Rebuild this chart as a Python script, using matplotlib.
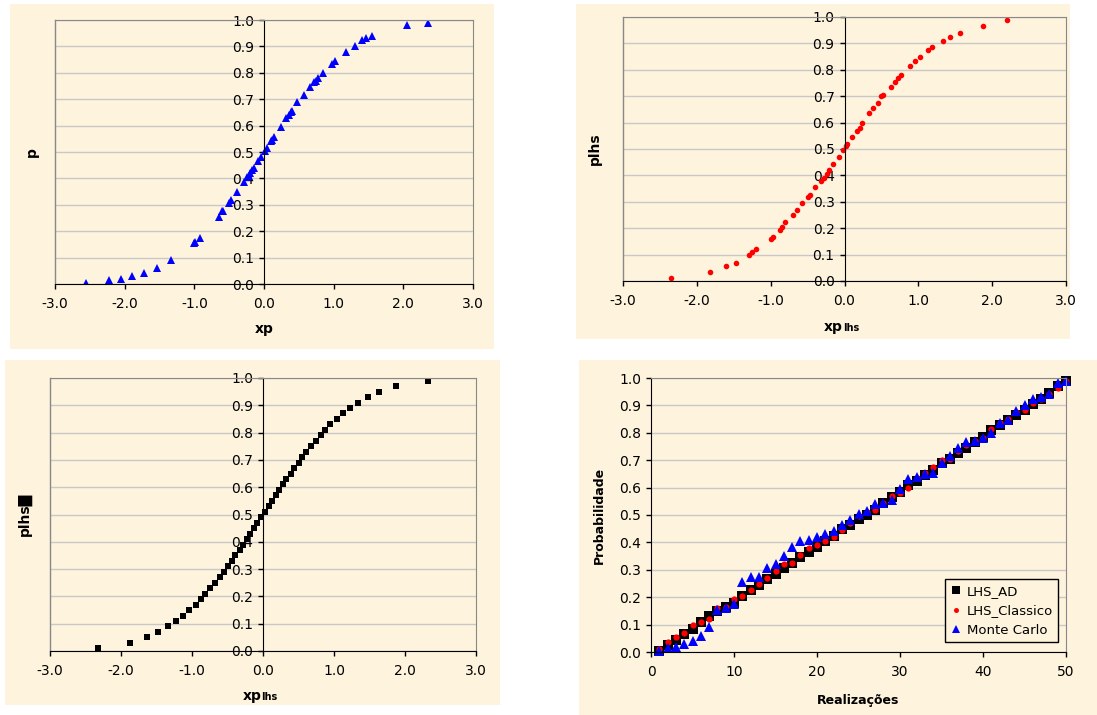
import matplotlib
matplotlib.use("Agg")
import matplotlib.pyplot as plt
from matplotlib.patches import Rectangle
from matplotlib.ticker import FormatStrFormatter, MultipleLocator

plt.rcParams['font.family'] = ['DejaVu Sans']

# Monte Carlo sample: probability and standard normal value
p_mc = [0.005, 0.015, 0.02, 0.03, 0.04, 0.06, 0.09, 0.155, 0.16, 0.175,
        0.255, 0.275, 0.275, 0.305, 0.32, 0.35, 0.385, 0.405, 0.41, 0.42,
        0.43, 0.44, 0.465, 0.48, 0.505, 0.515, 0.54, 0.545, 0.555, 0.595,
        0.63, 0.64, 0.65, 0.655, 0.69, 0.715, 0.745, 0.765, 0.77, 0.78,
        0.80, 0.835, 0.845, 0.88, 0.90, 0.925, 0.93, 0.94, 0.98, 0.99]
xp_mc = [-2.55, -2.22, -2.05, -1.90, -1.72, -1.53, -1.33, -1.00, -0.99, -0.92,
         -0.65, -0.60, -0.59, -0.50, -0.47, -0.39, -0.29, -0.25, -0.22, -0.20,
         -0.17, -0.15, -0.09, -0.05, 0.01, 0.04, 0.10, 0.12, 0.14, 0.24,
         0.32, 0.36, 0.39, 0.40, 0.48, 0.57, 0.66, 0.72, 0.74, 0.78,
         0.85, 0.98, 1.02, 1.18, 1.30, 1.40, 1.47, 1.55, 2.05, 2.35]

# LHS classico
p_lhs = [0.01, 0.035, 0.055, 0.07, 0.10, 0.11, 0.12, 0.16, 0.165, 0.195,
         0.205, 0.225, 0.25, 0.27, 0.295, 0.32, 0.325, 0.355, 0.38, 0.39,
         0.405, 0.42, 0.445, 0.47, 0.495, 0.51, 0.52, 0.545, 0.57, 0.58,
         0.60, 0.635, 0.655, 0.675, 0.70, 0.705, 0.735, 0.755, 0.77, 0.78,
         0.815, 0.835, 0.85, 0.875, 0.885, 0.91, 0.925, 0.94, 0.965, 0.99]
xp_lhs = [-2.35, -1.82, -1.60, -1.47, -1.30, -1.25, -1.20, -1.00, -0.97, -0.87,
          -0.84, -0.80, -0.70, -0.64, -0.57, -0.49, -0.47, -0.40, -0.32, -0.28,
          -0.24, -0.21, -0.16, -0.08, -0.02, 0.02, 0.04, 0.10, 0.17, 0.21,
          0.24, 0.33, 0.38, 0.45, 0.50, 0.52, 0.63, 0.69, 0.73, 0.76,
          0.89, 0.95, 1.02, 1.13, 1.19, 1.34, 1.43, 1.56, 1.87, 2.20]

# LHS_AD
p_ad = [0.01, 0.03, 0.05, 0.07, 0.09, 0.11, 0.13, 0.15, 0.17, 0.19,
        0.21, 0.23, 0.25, 0.27, 0.29, 0.31, 0.33, 0.35, 0.37, 0.39,
        0.41, 0.43, 0.45, 0.47, 0.49, 0.51, 0.53, 0.55, 0.57, 0.59,
        0.61, 0.63, 0.65, 0.67, 0.69, 0.71, 0.73, 0.75, 0.77, 0.79,
        0.81, 0.83, 0.85, 0.87, 0.89, 0.91, 0.93, 0.95, 0.97, 0.99]
xp_ad = [-2.33, -1.88, -1.64, -1.48, -1.34, -1.23, -1.13, -1.04, -0.95, -0.88,
         -0.81, -0.74, -0.67, -0.61, -0.55, -0.50, -0.44, -0.39, -0.33, -0.28,
         -0.23, -0.18, -0.13, -0.08, -0.03, 0.03, 0.08, 0.13, 0.18, 0.23,
         0.28, 0.33, 0.39, 0.44, 0.50, 0.55, 0.61, 0.67, 0.74, 0.81,
         0.88, 0.95, 1.04, 1.13, 1.23, 1.34, 1.48, 1.64, 1.88, 2.33]

# probabilities by realization (panel 4)
realiz = list(range(1, 51))
prob_ad = [0.005, 0.025, 0.045, 0.065, 0.085, 0.11, 0.13, 0.15, 0.165, 0.18,
           0.205, 0.225, 0.245, 0.265, 0.285, 0.305, 0.325, 0.345, 0.365, 0.385,
           0.405, 0.425, 0.45, 0.465, 0.485, 0.50, 0.52, 0.545, 0.565, 0.585,
           0.61, 0.625, 0.645, 0.665, 0.69, 0.705, 0.725, 0.745, 0.765, 0.785,
           0.81, 0.83, 0.845, 0.865, 0.885, 0.905, 0.925, 0.945, 0.97, 0.99]

W, H = 1097, 715
BG = '#FEF3DC'
GRID = '#C8C8C8'
EDGE = '#888888'

fig = plt.figure(figsize=(W / 100, H / 100), dpi=100)


def px_rect(x0, y0, x1, y1):
    return [x0 / W, 1 - y1 / H, (x1 - x0) / W, (y1 - y0) / H]


# cream backgrounds behind each chart
for x0, y0, x1, y1 in [(10, 4, 494, 349), (576, 4, 1070, 339),
                       (5, 360, 500, 705), (579, 360, 1097, 715)]:
    r = px_rect(x0, y0, x1, y1)
    fig.patches.append(Rectangle((r[0], r[1]), r[2], r[3], transform=fig.transFigure,
                                 facecolor=BG, edgecolor='none', zorder=-5))


def style(ax, xmin, xmax, xstep, xfmt, cross_zero):
    ax.set_facecolor('none')
    ax.set_xlim(xmin, xmax)
    ax.set_ylim(0, 1)
    ax.xaxis.set_major_locator(MultipleLocator(xstep))
    ax.yaxis.set_major_locator(MultipleLocator(0.1))
    ax.xaxis.set_major_formatter(FormatStrFormatter(xfmt))
    ax.yaxis.set_major_formatter(FormatStrFormatter('%.1f'))
    ax.grid(axis='y', color=GRID, lw=1)
    ax.spines['top'].set_color(EDGE)
    ax.spines['right'].set_color(EDGE)
    ax.spines['bottom'].set_color('black')
    ax.spines['left'].set_color('black')
    ax.tick_params(direction='out', length=3.6, width=1, labelsize=10, colors='black')
    ax.tick_params(axis='x', pad=6)
    ax.tick_params(axis='y', pad=3.6)
    if cross_zero:
        ax.spines['left'].set_position(('data', 0))
        ax.axvline(xmin, color=EDGE, lw=1, clip_on=False)


def xlabel_sub(ax, main, sub, y):
    ax.annotate(main, xy=(0, y), xycoords=('data', 'axes fraction'), ha='right',
                va='baseline', fontsize=10, fontweight='bold', xytext=(-1, 0),
                textcoords='offset points')
    ax.annotate(sub, xy=(0, y), xycoords=('data', 'axes fraction'), ha='left',
                va='baseline', fontsize=7, fontweight='bold', xytext=(-1, 0),
                textcoords='offset points')


# panel 1: Monte Carlo
ax1 = fig.add_axes(px_rect(55, 20, 473, 284))
style(ax1, -3, 3, 1, '%.1f', True)
ax1.plot(xp_mc, p_mc, '^', color='#0000FF', ms=6, mew=0)
ax1.text(0.5, -0.186, 'xp', transform=ax1.transAxes, ha='center', va='baseline',
         fontsize=10, fontweight='bold')
ax1.text(-0.055, 0.5, 'p', transform=ax1.transAxes, ha='center', va='center',
         rotation=90, fontsize=10, fontweight='bold')

# panel 2: LHS classico
ax2 = fig.add_axes(px_rect(623, 17, 1066, 281))
style(ax2, -3, 3, 1, '%.1f', True)
ax2.plot(xp_lhs, p_lhs, 'o', color='#FF0000', ms=4, mew=0)
xlabel_sub(ax2, 'xp', 'lhs', -0.189)
ax2.text(-0.063, 0.5, 'plhs', transform=ax2.transAxes, ha='center', va='center',
         rotation=90, fontsize=10, fontweight='bold')

# panel 3: LHS_AD
ax3 = fig.add_axes(px_rect(50, 378, 476, 651))
style(ax3, -3, 3, 1, '%.1f', True)
ax3.plot(xp_ad, p_ad, 's', color='black', ms=4.5, mew=0)
xlabel_sub(ax3, 'xp', 'lhs', -0.18)
ax3.text(-0.059, 0.5, 'plhs\u2588', transform=ax3.transAxes, ha='center', va='center',
         rotation=90, fontsize=10, fontweight='bold')

# panel 4: comparison by realization
ax4 = fig.add_axes(px_rect(651, 378, 1066, 652))
style(ax4, 0, 50, 10, '%d', False)
ax4.plot(realiz, prob_ad, 's', color='black', ms=6.5, mew=0, label='LHS_AD', clip_on=False)
ax4.plot(realiz, p_lhs, 'o', color='#FF0000', ms=4.5, mew=0, label='LHS_Classico', clip_on=False)
ax4.plot(realiz, p_mc, '^', color='#0000FF', ms=6.5, mew=0, label='Monte Carlo', clip_on=False)
ax4.text(0.5, -0.19, 'Realizações', transform=ax4.transAxes, ha='center', va='baseline',
         fontsize=9, fontweight='bold')
ax4.text(-0.125, 0.5, 'Probabilidade', transform=ax4.transAxes, ha='center', va='center',
         rotation=90, fontsize=9, fontweight='bold')
leg = ax4.legend(loc='lower right', bbox_to_anchor=(0.981, 0.036), borderaxespad=0,
                 fontsize=9.5, fancybox=False, framealpha=1, handlelength=0.8,
                 handletextpad=0.4, borderpad=0.4, labelspacing=0.5, markerscale=0.8)
leg.get_frame().set_facecolor(BG)
leg.get_frame().set_edgecolor('black')
leg.get_frame().set_linewidth(1)

fig.savefig('out.png', dpi=100)
